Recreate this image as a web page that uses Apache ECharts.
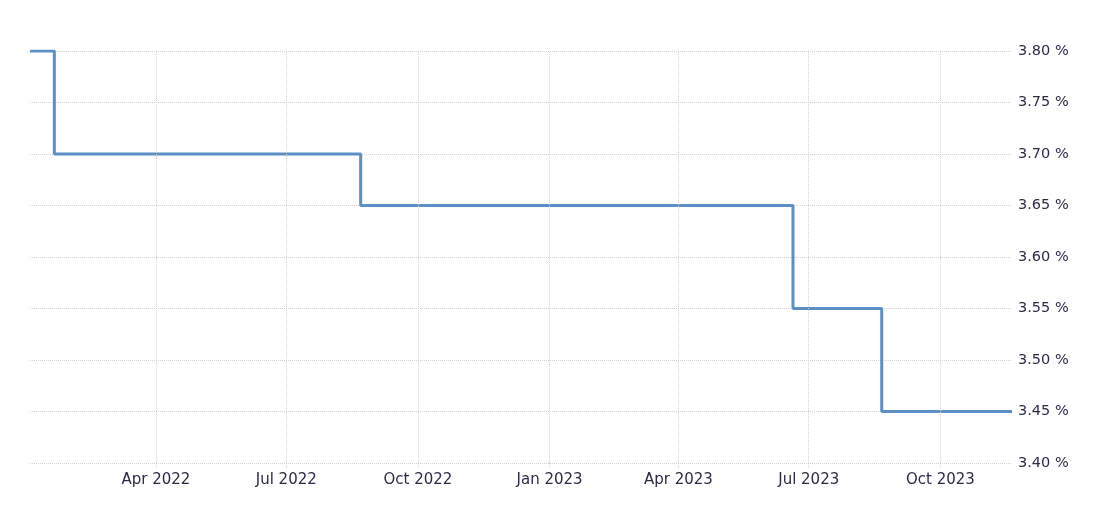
<!DOCTYPE html>
<html><head><meta charset="utf-8">
<script src="https://cdn.jsdelivr.net/npm/echarts@6/dist/echarts.min.js"></script>
<style>html,body{margin:0;padding:0;background:#fff}#c{width:1109px;height:511px}</style>
</head><body><div id="c"></div>
<script>
var dates = ['2022-01-03','2022-01-20','2022-08-22','2023-06-20','2023-08-21','2023-11-20'];
var values = [3.80, 3.70, 3.65, 3.55, 3.45, 3.45];
var tickDates = ['2022-04-01','2022-07-01','2022-10-01','2023-01-01','2023-04-01','2023-07-01','2023-10-01'];
var tickLabels = ['Apr 2022','Jul 2022','Oct 2022','Jan 2023','Apr 2023','Jul 2023','Oct 2023'];
var yTicks = [3.40, 3.45, 3.50, 3.55, 3.60, 3.65, 3.70, 3.75, 3.80];

function ts(d){ var p=d.split('-'); return Date.UTC(+p[0], +p[1]-1, +p[2]); }
var tickTs = tickDates.map(ts);
var labelMap = {};
tickTs.forEach(function(t,i){ labelMap[t]=tickLabels[i]; });

var chart = echarts.init(document.getElementById('c'), null, {renderer:'canvas'});
chart.setOption({
  animation:false,
  grid:{left:30,right:97,top:51,bottom:48,containLabel:false},
  xAxis:{
    type:'value',
    min:ts(dates[0]), max:ts(dates[dates.length-1]),
    axisLine:{show:false},
    axisTick:{show:true,customValues:tickTs,length:6,lineStyle:{color:'#d2d2d2',type:'dotted',width:1}},
    axisLabel:{customValues:tickTs,formatter:function(v){return labelMap[v]||'';},
      color:'#2b2b45',fontFamily:'DejaVu Sans',fontSize:15,margin:10},
    splitLine:{show:false}
  },
  yAxis:{
    type:'value',position:'right',
    min:yTicks[0],max:yTicks[yTicks.length-1],interval:0.05,
    axisLine:{show:false},axisTick:{show:false},
    axisLabel:{formatter:function(v){return v.toFixed(2)+' %';},color:'#2b2b45',fontFamily:'DejaVu Sans',fontSize:14.5,margin:6},
    splitLine:{show:true,lineStyle:{color:'#d2d2d2',type:'dotted',width:1}}
  },
  series:[{
    type:'line',step:'end',showSymbol:false,
    data:dates.map(function(d,i){return [ts(d),values[i]];}),
    lineStyle:{color:'#5b8fc6',width:3},
    markLine:{silent:true,symbol:['none','none'],label:{show:false},
      lineStyle:{color:'#d2d2d2',type:'dotted',width:1},
      data:tickTs.map(function(t){return {xAxis:t};})}
  }]
});
</script></body></html>
